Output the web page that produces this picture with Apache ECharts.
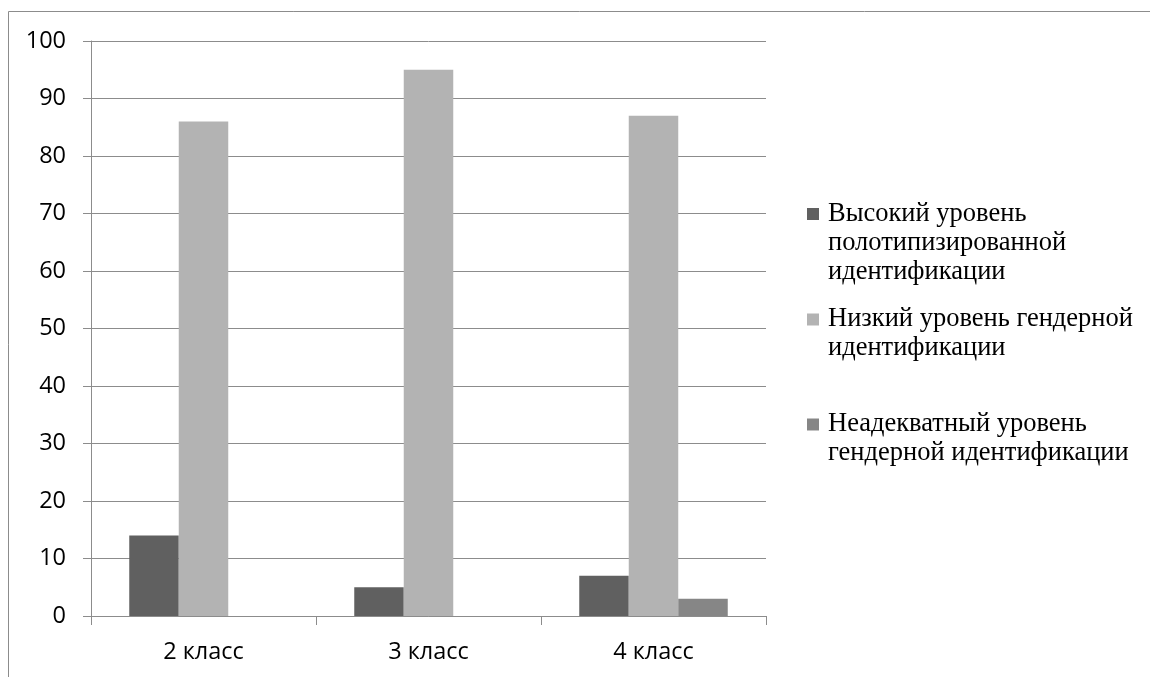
<!DOCTYPE html>
<html>
<head>
<meta charset="utf-8">
<script src="https://cdn.jsdelivr.net/npm/echarts@6/dist/echarts.min.js"></script>
<style>
  html, body { margin: 0; padding: 0; background: #ffffff; }
  #chart { width: 1150px; height: 677px; }
</style>
</head>
<body>
<div id="chart"></div>
<script>
const categories = ['2 класс', '3 класс', '4 класс'];
const seriesNames = [
  'Высокий уровень полотипизированной идентификации',
  'Низкий уровень гендерной идентификации',
  'Неадекватный уровень гендерной идентификации'
];
const legendLines = [
  ['Высокий уровень', 'полотипизированной', 'идентификации'],
  ['Низкий уровень гендерной', 'идентификации'],
  ['Неадекватный уровень', 'гендерной идентификации']
];
const highValues = [14, 5, 7];
const lowValues = [86, 95, 87];
const inadequateValues = [0, 0, 3];

const colors = ['#606060', '#b3b3b3', '#868686'];
const legendTops = [199.5, 305, 410];
const gridColor = '#8c8c8c';

const chart = echarts.init(document.getElementById('chart'), null, { renderer: 'canvas' });

function makeLegend(i) {
  return {
    show: true,
    orient: 'vertical',
    left: 807 - 5,
    top: legendTops[i],
    padding: 0,
    itemWidth: 0,
    itemHeight: 0,
    icon: 'rect',
    selectedMode: false,
    data: [seriesNames[i]],
    formatter: function () {
      return legendLines[i].map(function (line, k) {
        return (k === 0 ? '{m|}' : '{s|}') + '{g|}{t|' + line + '}';
      }).join('\n');
    },
    textStyle: {
      fontFamily: 'Liberation Serif',
      fontSize: 26.5,
      color: '#000000',
      lineHeight: 29,
      rich: {
        m: { width: 12, height: 12, backgroundColor: colors[i], lineHeight: 29 },
        s: { width: 12, height: 12, lineHeight: 29 },
        g: { width: 9, height: 12, lineHeight: 29 },
        t: { fontFamily: 'Liberation Serif', fontSize: 26.5, color: '#000000', lineHeight: 29 }
      }
    }
  };
}

const dataSets = [highValues, lowValues, inadequateValues];

chart.setOption({
  animation: false,
  color: colors,
  grid: { left: 91, right: 384, top: 41, bottom: 61, containLabel: false, outerBoundsMode: 'none' },
  legend: [makeLegend(0), makeLegend(1), makeLegend(2)],
  xAxis: {
    type: 'category',
    data: categories,
    axisLine: { show: true, lineStyle: { color: gridColor, width: 1 } },
    axisTick: { show: true, length: 9, alignWithLabel: false, lineStyle: { color: gridColor } },
    axisLabel: { margin: 24, fontFamily: 'Open Sans', fontSize: 23.5, color: '#000000' },
    splitLine: { show: false }
  },
  yAxis: {
    type: 'value',
    min: 0,
    max: 100,
    interval: 10,
    axisLine: { show: true, lineStyle: { color: gridColor, width: 1 } },
    axisTick: { show: true, length: 8, lineStyle: { color: gridColor } },
    axisLabel: { margin: 25, fontFamily: 'Open Sans', fontSize: 23.5, color: '#000000' },
    splitLine: { show: true, lineStyle: { color: gridColor, width: 1 } }
  },
  series: dataSets.map(function (vals, i) {
    return {
      name: seriesNames[i],
      type: 'bar',
      data: vals,
      barGap: '0%',
      barCategoryGap: '34%',
      itemStyle: { color: colors[i] }
    };
  }),
  graphic: [
    { type: 'line', shape: { x1: 8.5, y1: 11.5, x2: 1150, y2: 11.5 }, style: { stroke: gridColor, lineWidth: 1 } },
    { type: 'line', shape: { x1: 8.5, y1: 11.5, x2: 8.5, y2: 677 }, style: { stroke: gridColor, lineWidth: 1 } }
  ]
});
</script>
</body>
</html>
